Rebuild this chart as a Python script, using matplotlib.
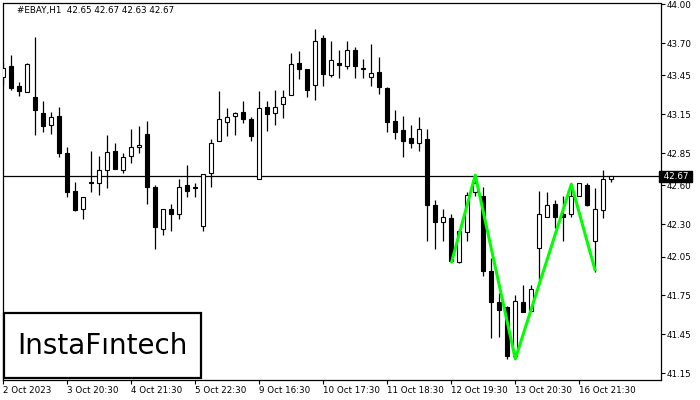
import numpy as np
import matplotlib.pyplot as plt
from matplotlib.patches import Rectangle

## data (EBAY H1)
opens = [43.44, 43.52, 43.37, 43.32, 43.28, 43.16, 43.07, 43.14, 42.85, 42.56,
         42.42, 42.63, 42.62, 42.72, 42.87, 42.72, 42.83, 42.90, 43.00, 42.59,
         42.26, 42.42, 42.38, 42.60, 42.58, 42.29, 42.70, 42.94, 43.09, 43.14,
         43.17, 43.11, 42.65, 43.21, 43.16, 43.23, 43.30, 43.55, 43.50, 43.38,
         43.74, 43.45, 43.55, 43.52, 43.65, 43.51, 43.44, 43.48, 43.35, 43.10,
         43.03, 42.97, 42.93, 42.96, 42.45, 42.32, 42.35, 42.01, 42.24, 42.55,
         42.52, 41.94, 41.70, 41.66, 41.28, 41.70, 41.63, 42.12, 42.36, 42.46,
         42.38, 42.38, 42.52, 42.60, 42.17, 42.41, 42.65]
highs = [43.55, 43.61, 43.40, 43.55, 43.75, 43.25, 43.17, 43.21, 42.90, 42.63,
         42.51, 42.87, 42.83, 42.99, 42.93, 42.85, 43.04, 43.06, 43.10, 42.60,
         42.42, 42.46, 42.65, 42.76, 42.62, 42.69, 42.96, 43.33, 43.20, 43.17,
         43.25, 43.13, 43.33, 43.25, 43.34, 43.34, 43.62, 43.64, 43.50, 43.81,
         43.76, 43.72, 43.65, 43.72, 43.67, 43.58, 43.69, 43.59, 43.36, 43.18,
         43.14, 43.07, 43.13, 43.04, 42.49, 42.42, 42.38, 42.26, 42.55, 42.68,
         42.59, 42.04, 41.77, 41.67, 41.75, 41.83, 41.83, 42.56, 42.55, 42.49,
         42.52, 42.62, 42.62, 42.62, 42.58, 42.72, 42.67]
lows = [43.38, 43.34, 43.29, 43.32, 42.99, 43.01, 43.00, 42.82, 42.51, 42.40,
        42.34, 42.55, 42.53, 42.58, 42.73, 42.70, 42.77, 42.85, 42.46, 42.11,
        42.22, 42.25, 42.34, 42.51, 42.51, 42.25, 42.59, 42.94, 42.98, 42.99,
        43.08, 42.94, 42.65, 43.02, 43.07, 43.12, 43.30, 43.42, 43.28, 43.26,
        43.37, 43.44, 43.43, 43.50, 43.43, 43.43, 43.37, 43.31, 43.01, 42.96,
        42.82, 42.89, 42.87, 42.17, 42.11, 42.17, 42.01, 42.00, 42.17, 42.52,
        41.90, 41.42, 41.43, 41.26, 41.26, 41.62, 41.63, 41.87, 42.36, 42.27,
        42.17, 42.36, 42.52, 42.44, 41.93, 42.35, 42.63]
closes = [43.51, 43.35, 43.33, 43.54, 43.18, 43.06, 43.13, 42.85, 42.55, 42.41,
          42.51, 42.62, 42.72, 42.86, 42.73, 42.82, 42.90, 42.91, 42.59, 42.28,
          42.42, 42.38, 42.59, 42.56, 42.59, 42.69, 42.93, 43.11, 43.13, 43.16,
          43.11, 42.98, 43.20, 43.15, 43.21, 43.28, 43.54, 43.50, 43.34, 43.72,
          43.46, 43.57, 43.53, 43.65, 43.52, 43.50, 43.47, 43.36, 43.09, 43.01,
          42.94, 42.93, 43.04, 42.45, 42.32, 42.36, 42.02, 42.25, 42.53, 42.62,
          41.94, 41.70, 41.64, 41.28, 41.71, 41.62, 41.80, 42.38, 42.45, 42.36,
          42.36, 42.52, 42.62, 42.45, 42.42, 42.65, 42.67]

## pattern (green zigzag)
zz_bars = [56, 59, 64, 71, 74]
zz_prices = [42.00, 42.68, 41.26, 42.61, 41.94]

tick_bars = [0, 8, 16, 24, 32, 40, 48, 56, 64, 72]
tick_labels = ['2 Oct 2023', '3 Oct 20:30', '4 Oct 21:30', '5 Oct 22:30', '9 Oct 16:30',
               '10 Oct 17:30', '11 Oct 18:30', '12 Oct 19:30', '13 Oct 20:30', '16 Oct 21:30']
y_ticks = [44.00, 43.70, 43.45, 43.15, 42.85, 42.60, 42.30, 42.05, 41.75, 41.45, 41.15]
bid = 42.67

plt.rcParams['font.family'] = ['DejaVu Sans']

o = np.array(opens)
h = np.array(highs)
l = np.array(lows)
c = np.array(closes)
x = np.arange(len(o))

fig = plt.figure(figsize=(7, 4), dpi=100)
ax = fig.add_axes([2.5 / 700, 1 - 380 / 400, 658.2 / 700, 376.5 / 400])

# wicks
ax.vlines(x, l, h, color='black', lw=0.9, zorder=2)
# bodies
up = c >= o
ax.bar(x, np.abs(c - o), bottom=np.minimum(o, c), width=0.5,
       color=np.where(up, 'white', 'black'), edgecolor='black', lw=0.8, zorder=3)

# bid line
ax.axhline(bid, color='black', lw=0.9, zorder=1.5)

# pattern
ax.plot(zz_bars, zz_prices, color='#00ff00', lw=2.2, zorder=4, solid_capstyle='butt')

ax.set_xlim(-0.1, 82.175)
ax.set_ylim(41.097, 44.006)

ax.yaxis.tick_right()
ax.set_yticks(y_ticks)
ax.set_yticklabels(['%.2f' % v for v in y_ticks])
ax.set_xticks(tick_bars)
ax.set_xticklabels(tick_labels, ha='left')
ax.tick_params(axis='both', direction='out', length=3, width=0.8, labelsize=6.3,
               colors='black', pad=1.5)
for s in ax.spines.values():
    s.set_color('black')
    s.set_linewidth(0.9)

# current price label on the right axis
ax.text(1.0, bid, ' 42.67 ', transform=ax.get_yaxis_transform(), ha='left', va='center',
        fontsize=6.3, color='white', zorder=6, clip_on=False,
        bbox=dict(boxstyle='square,pad=0.15', fc='black', ec='black'))

# header
fig.text(17 / 700, 1 - 10 / 400, '#EBAY,H1  42.65 42.67 42.63 42.67', fontsize=6.3,
         va='center', ha='left', color='black')

# logo box
fig.patches.append(Rectangle((4 / 700, 1 - 378 / 400), 197 / 700, 65 / 400,
                             transform=fig.transFigure, fc='white', ec='black', lw=1.6, zorder=10))
fig.text(102 / 700, 1 - 346 / 400, 'InstaFıntech', fontsize=20, ha='center', va='center',
         color='black', zorder=11)

fig.savefig('out.png', dpi=100)
